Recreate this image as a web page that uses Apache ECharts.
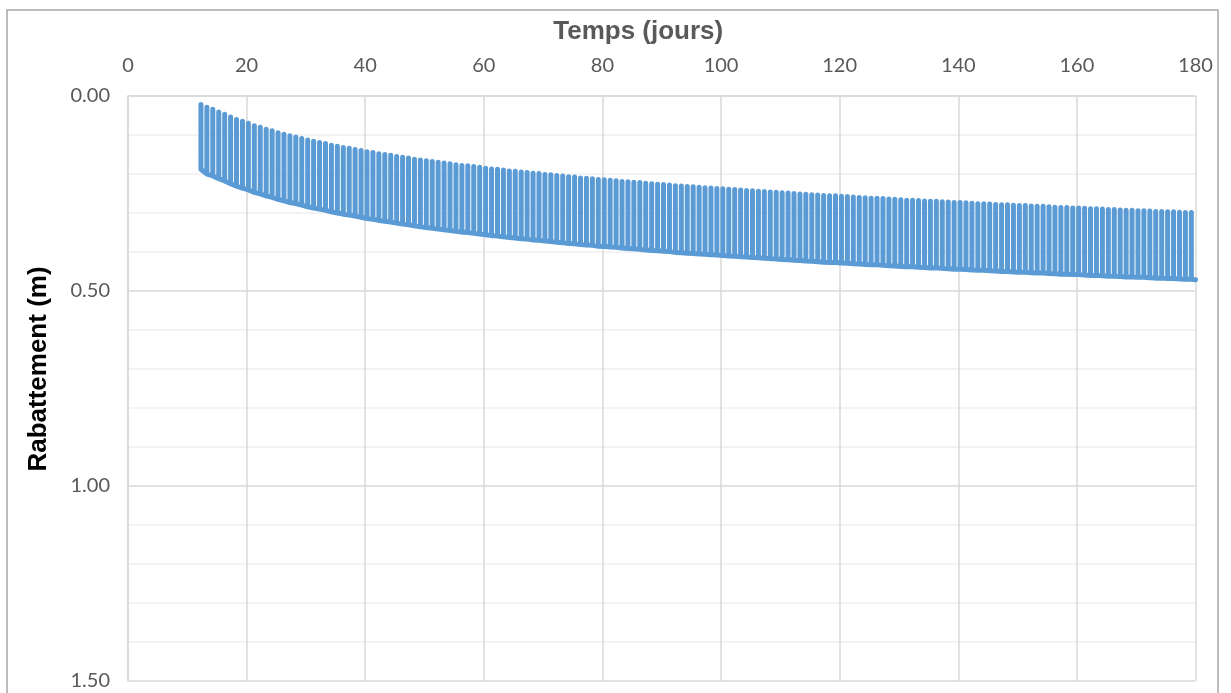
<!DOCTYPE html>
<html>
<head>
<meta charset="utf-8">
<script src="https://cdn.jsdelivr.net/npm/echarts@6/dist/echarts.min.js"></script>
<style>
html,body{margin:0;padding:0;background:#fff;}
#chart{width:1231px;height:693px;}
</style>
</head>
<body>
<div id="chart"></div>
<script>
// Daily pumping cycles: recovery peak (top) and pumping drawdown (bottom), days 12..179
const firstDay = 12;
const cycleOffset = 0.3;     // time within the day of the recovery peak
const endDay = 180;
const endDrawdown = 0.471;
const xTicks = [0, 20, 40, 60, 80, 100, 120, 140, 160, 180];
const yTicks = [0.0, 0.5, 1.0, 1.5];

const recoveryTop = [
0.022,0.029,0.034,0.041,0.047,0.054,0.060,0.065,0.070,0.076,
0.080,0.085,0.089,0.094,0.098,0.102,0.105,0.109,0.113,0.116,
0.119,0.122,0.126,0.129,0.132,0.134,0.137,0.140,0.143,0.145,
0.148,0.150,0.152,0.155,0.157,0.159,0.162,0.164,0.166,0.168,
0.170,0.172,0.174,0.176,0.178,0.179,0.181,0.183,0.185,0.187,
0.188,0.190,0.192,0.193,0.195,0.196,0.198,0.199,0.201,0.202,
0.204,0.205,0.207,0.208,0.210,0.211,0.212,0.214,0.215,0.216,
0.217,0.219,0.220,0.221,0.222,0.224,0.225,0.226,0.227,0.228,
0.230,0.231,0.232,0.233,0.234,0.235,0.236,0.237,0.238,0.239,
0.240,0.241,0.242,0.243,0.244,0.245,0.246,0.247,0.248,0.249,
0.250,0.251,0.252,0.253,0.254,0.255,0.256,0.256,0.257,0.258,
0.259,0.260,0.261,0.262,0.262,0.263,0.264,0.265,0.266,0.267,
0.267,0.268,0.269,0.270,0.270,0.271,0.272,0.273,0.273,0.274,
0.275,0.276,0.276,0.277,0.278,0.279,0.279,0.280,0.281,0.281,
0.282,0.283,0.283,0.284,0.285,0.286,0.286,0.287,0.287,0.288,
0.289,0.289,0.290,0.291,0.291,0.292,0.293,0.293,0.294,0.294,
0.295,0.296,0.296,0.297,0.297,0.298,0.299,0.299
];

const pumpingBottom = [
0.188,0.200,0.205,0.212,0.218,0.225,0.231,0.236,0.241,0.247,
0.251,0.256,0.260,0.265,0.269,0.273,0.276,0.280,0.284,0.287,
0.290,0.293,0.297,0.300,0.303,0.305,0.308,0.311,0.314,0.316,
0.319,0.321,0.323,0.326,0.328,0.330,0.333,0.335,0.337,0.339,
0.341,0.343,0.345,0.347,0.349,0.350,0.352,0.354,0.356,0.358,
0.359,0.361,0.363,0.364,0.366,0.367,0.369,0.370,0.372,0.373,
0.375,0.376,0.378,0.379,0.381,0.382,0.383,0.385,0.386,0.387,
0.388,0.390,0.391,0.392,0.393,0.395,0.396,0.397,0.398,0.399,
0.401,0.402,0.403,0.404,0.405,0.406,0.407,0.408,0.409,0.410,
0.411,0.412,0.413,0.414,0.415,0.416,0.417,0.418,0.419,0.420,
0.421,0.422,0.423,0.424,0.425,0.426,0.427,0.427,0.428,0.429,
0.430,0.431,0.432,0.433,0.433,0.434,0.435,0.436,0.437,0.438,
0.438,0.439,0.440,0.441,0.441,0.442,0.443,0.444,0.444,0.445,
0.446,0.447,0.447,0.448,0.449,0.450,0.450,0.451,0.452,0.452,
0.453,0.454,0.454,0.455,0.456,0.457,0.457,0.458,0.458,0.459,
0.460,0.460,0.461,0.462,0.462,0.463,0.464,0.464,0.465,0.465,
0.466,0.467,0.467,0.468,0.468,0.469,0.470,0.470
];

// Build the sawtooth path from the arrays
const lineData = [];
for (let i = 0; i < recoveryTop.length; i++) {
  const t = firstDay + i + cycleOffset;
  if (i > 0) lineData.push([t, pumpingBottom[i]]);
  lineData.push([t, recoveryTop[i]]);
  lineData.push([t, pumpingBottom[i]]);
}
lineData.push([endDay, endDrawdown]);

const chart = echarts.init(document.getElementById('chart'), null, {renderer: 'canvas'});
const tickFont = 'Lato, "Open Sans", sans-serif';
const titleFont = '"Liberation Sans", Arial, sans-serif';

chart.setOption({
  animation: false,
  backgroundColor: '#ffffff',
  graphic: [{
    type: 'rect',
    shape: {x: 7, y: 10, width: 1211, height: 700},
    style: {fill: 'none', stroke: '#A6A6A6', lineWidth: 1.5},
    silent: true, z: -1
  }],
  grid: {left: 128, right: 35.5, top: 96, bottom: 12, containLabel: false},
  xAxis: {
    type: 'value',
    position: 'top',
    min: xTicks[0], max: xTicks[xTicks.length - 1], interval: 20,
    name: 'Temps (jours)',
    nameLocation: 'middle',
    nameGap: 51,
    nameTextStyle: {fontFamily: titleFont, fontWeight: 'bold', fontSize: 26, color: '#595959',
      padding: [0, 47, 0, 0]},
    axisLine: {show: true, lineStyle: {color: '#D9D9D9', width: 1.5}},
    axisTick: {show: false},
    axisLabel: {fontFamily: tickFont, fontSize: 20, color: '#595959', margin: 20},
    splitLine: {show: true, lineStyle: {color: '#D9D9D9', width: 1.5}}
  },
  yAxis: {
    type: 'value',
    inverse: true,
    min: yTicks[0], max: yTicks[yTicks.length - 1], interval: 0.5,
    name: 'Rabattement (m)',
    nameLocation: 'middle',
    nameGap: 76,
    nameRotate: 90,
    nameTextStyle: {fontFamily: titleFont, fontWeight: 'bold', fontSize: 26, color: '#000000',
      padding: [0, 0, 0, 39]},
    axisLine: {show: true, lineStyle: {color: '#D9D9D9', width: 1.5}},
    axisTick: {show: false},
    axisLabel: {fontFamily: tickFont, fontSize: 20, color: '#595959', margin: 18,
      formatter: v => v.toFixed(2)},
    splitLine: {show: true, lineStyle: {color: '#D9D9D9', width: 1.5}},
    minorTick: {show: false, splitNumber: 5},
    minorSplitLine: {show: true, lineStyle: {color: '#F0F0F0', width: 1.5}}
  },
  series: [{
    type: 'line',
    data: lineData,
    showSymbol: false,
    symbol: 'none',
    lineStyle: {color: '#5B9BD5', width: 5, cap: 'round', join: 'round'},
    z: 3
  }]
});
</script>
</body>
</html>
